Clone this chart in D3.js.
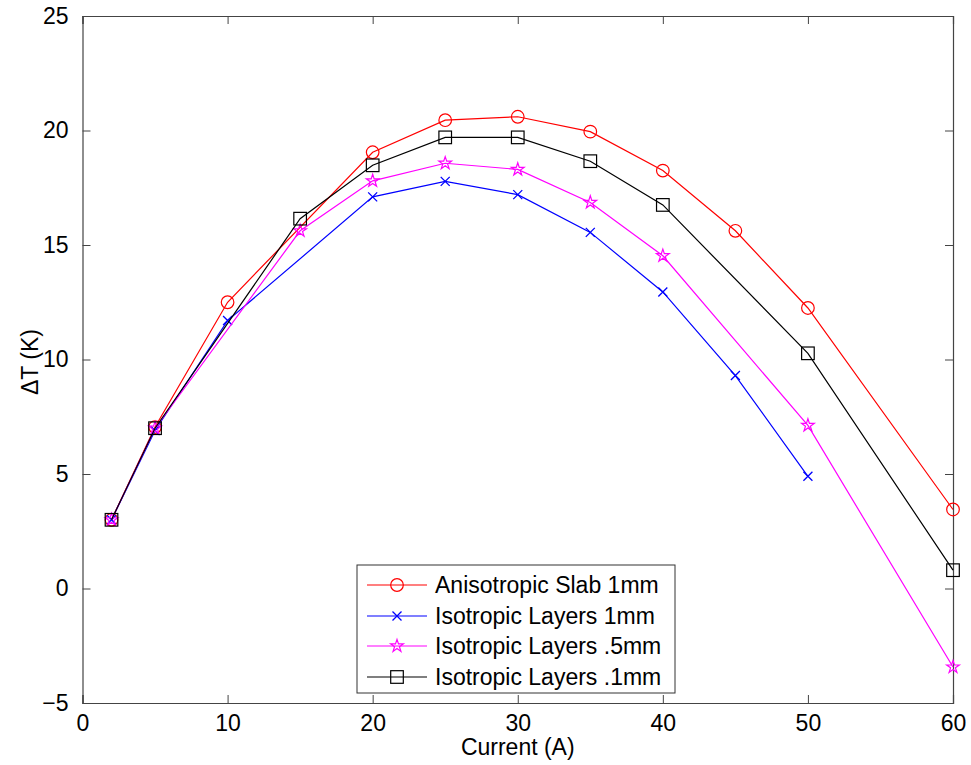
<!DOCTYPE html>
<html>
  <head>
    <meta charset="utf-8">
    <title>Delta T vs current</title>
    <script src="https://d3js.org/d3.v7.min.js"></script>
    <style>
      body { margin: 0; background: #fff; }
      text { font-family: "Liberation Sans", Arial, sans-serif; }
    </style>
  </head>
  <body>
    <div id="chart"></div>
  </body>
  <script>
  // data
  var xTicks = [0, 10, 20, 30, 40, 50, 60];
  var yTicks = [-5, 0, 5, 10, 15, 20, 25];

  var slabX   = [2, 5, 10, 20, 25, 30, 35, 40, 45, 50, 60];
  var slabY   = [3.0, 7.05, 12.5, 19.05, 20.45, 20.6, 19.95, 18.25, 15.62, 12.25, 3.45];
  var iso1X   = [2, 5, 10, 20, 25, 30, 35, 40, 45, 50];
  var iso1Y   = [3.0, 6.9, 11.7, 17.1, 17.78, 17.2, 15.55, 12.95, 9.3, 4.9];
  var iso05X  = [2, 5, 15, 20, 25, 30, 35, 40, 50, 60];
  var iso05Y  = [3.0, 7.0, 15.62, 17.8, 18.57, 18.3, 16.86, 14.53, 7.12, -3.43];
  var iso01X  = [2, 5, 15, 20, 25, 30, 35, 40, 50, 60];
  var iso01Y  = [3.0, 7.0, 16.15, 18.48, 19.7, 19.7, 18.66, 16.75, 10.27, 0.8];

  var seriesNames = ["Anisotropic Slab 1mm", "Isotropic Layers 1mm", "Isotropic Layers .5mm", "Isotropic Layers .1mm"];
  var seriesColors = ["#ff0000", "#0000ff", "#ff00ff", "#000000"];
  var seriesMarkers = ["circle", "cross", "star", "square"];

  var series = [
    {name: seriesNames[0], xs: slabX,  ys: slabY},
    {name: seriesNames[1], xs: iso1X,  ys: iso1Y},
    {name: seriesNames[2], xs: iso05X, ys: iso05Y},
    {name: seriesNames[3], xs: iso01X, ys: iso01Y}
  ];
  series.forEach(function(s, i) {
    s.color = seriesColors[i];
    s.marker = seriesMarkers[i];
    s.points = s.xs.map(function(x, j) { return [x, s.ys[j]]; });
  });

  var width = 971, height = 765;
  var plotLeft = 82.5, plotRight = 953, plotTop = 16, plotBottom = 703;
  var fontSize = "23px";

  var svg = d3.select('#chart')
      .append("svg")
      .attr("width", width)
      .attr("height", height);

  var x = d3.scaleLinear().domain([0, 60]).range([plotLeft, plotRight]);
  var y = d3.scaleLinear().domain([-5, 25]).range([plotBottom, plotTop]);

  var axisColor = "#444";
  var tickLen = 8;

  // axes, MATLAB style: ticks inward, mirrored on the box
  var xAxis = svg.append("g")
      .attr("transform", "translate(0," + plotBottom + ")")
      .call(d3.axisBottom(x).tickValues(xTicks).tickSize(-tickLen).tickPadding(tickLen + 4));
  var xAxisTop = svg.append("g")
      .attr("transform", "translate(0," + plotTop + ")")
      .call(d3.axisTop(x).tickValues(xTicks).tickSize(-tickLen).tickFormat(""));
  var yAxis = svg.append("g")
      .attr("transform", "translate(" + plotLeft + ",0)")
      .call(d3.axisLeft(y).tickValues(yTicks).tickSize(-tickLen).tickPadding(tickLen + 6)
        .tickFormat(function(d) { return d < 0 ? "\u2212" + Math.abs(d) : d; }));
  var yAxisRight = svg.append("g")
      .attr("transform", "translate(" + plotRight + ",0)")
      .call(d3.axisRight(y).tickValues(yTicks).tickSize(-tickLen).tickFormat(""));

  [xAxis, xAxisTop, yAxis, yAxisRight].forEach(function(g) {
    g.attr("font-size", fontSize).attr("font-family", "Liberation Sans, Arial, sans-serif");
    g.select(".domain").attr("stroke", axisColor).attr("stroke-width", 1.2);
    g.selectAll(".tick line").attr("stroke", axisColor);
    g.selectAll(".tick text").attr("fill", "#000");
  });

  // axis titles
  svg.append("text")
      .attr("x", (plotLeft + plotRight) / 2)
      .attr("y", 755)
      .attr("text-anchor", "middle")
      .attr("font-size", fontSize)
      .text("Current (A)");
  svg.append("text")
      .attr("transform", "translate(38," + 362 + ") rotate(-90)")
      .attr("text-anchor", "middle")
      .attr("font-size", fontSize)
      .text("\u0394T (K)");

  // marker shapes
  function drawMarker(g, type, color) {
    if (type === "circle") {
      g.append("circle").attr("r", 6.3).attr("fill", "none").attr("stroke", color).attr("stroke-width", 1.2);
    } else if (type === "square") {
      g.append("rect").attr("x", -6.3).attr("y", -6.3).attr("width", 12.6).attr("height", 12.6)
        .attr("fill", "none").attr("stroke", color).attr("stroke-width", 1.2);
    } else if (type === "cross") {
      g.append("path").attr("d", "M-4.5,-4.5L4.5,4.5M-4.5,4.5L4.5,-4.5")
        .attr("stroke", color).attr("stroke-width", 1.3).attr("fill", "none");
    } else if (type === "star") {
      g.append("path").attr("d", d3.symbol().type(d3.symbolStar).size(50)())
        .attr("fill", "none").attr("stroke", color).attr("stroke-width", 1.2);
    }
  }

  var line = d3.line()
      .x(function(d) { return x(d[0]); })
      .y(function(d) { return y(d[1]); });

  series.forEach(function(s) {
    svg.append("path")
        .datum(s.points)
        .attr("d", line)
        .attr("fill", "none")
        .attr("stroke", s.color)
        .attr("stroke-width", 1.2);
    svg.append("g").selectAll("g")
        .data(s.points)
        .enter()
        .append("g")
        .attr("transform", function(d) { return "translate(" + x(d[0]) + "," + y(d[1]) + ")"; })
        .each(function() { drawMarker(d3.select(this), s.marker, s.color); });
  });

  // legend
  var lg = svg.append("g");
  lg.append("rect")
      .attr("x", 357).attr("y", 565)
      .attr("width", 318).attr("height", 128)
      .attr("fill", "#fff").attr("stroke", "#333").attr("stroke-width", 1);
  series.forEach(function(s, i) {
    var cy = Math.round(585 + i * 30.5);
    lg.append("line")
        .attr("x1", 367).attr("x2", 427)
        .attr("y1", cy).attr("y2", cy)
        .attr("stroke", s.color).attr("stroke-width", 1.2);
    drawMarker(lg.append("g").attr("transform", "translate(397," + cy + ")"), s.marker, s.color);
    lg.append("text")
        .attr("x", 435).attr("y", cy + 8)
        .attr("font-size", fontSize)
        .text(s.name);
  });
  </script>
</html>
